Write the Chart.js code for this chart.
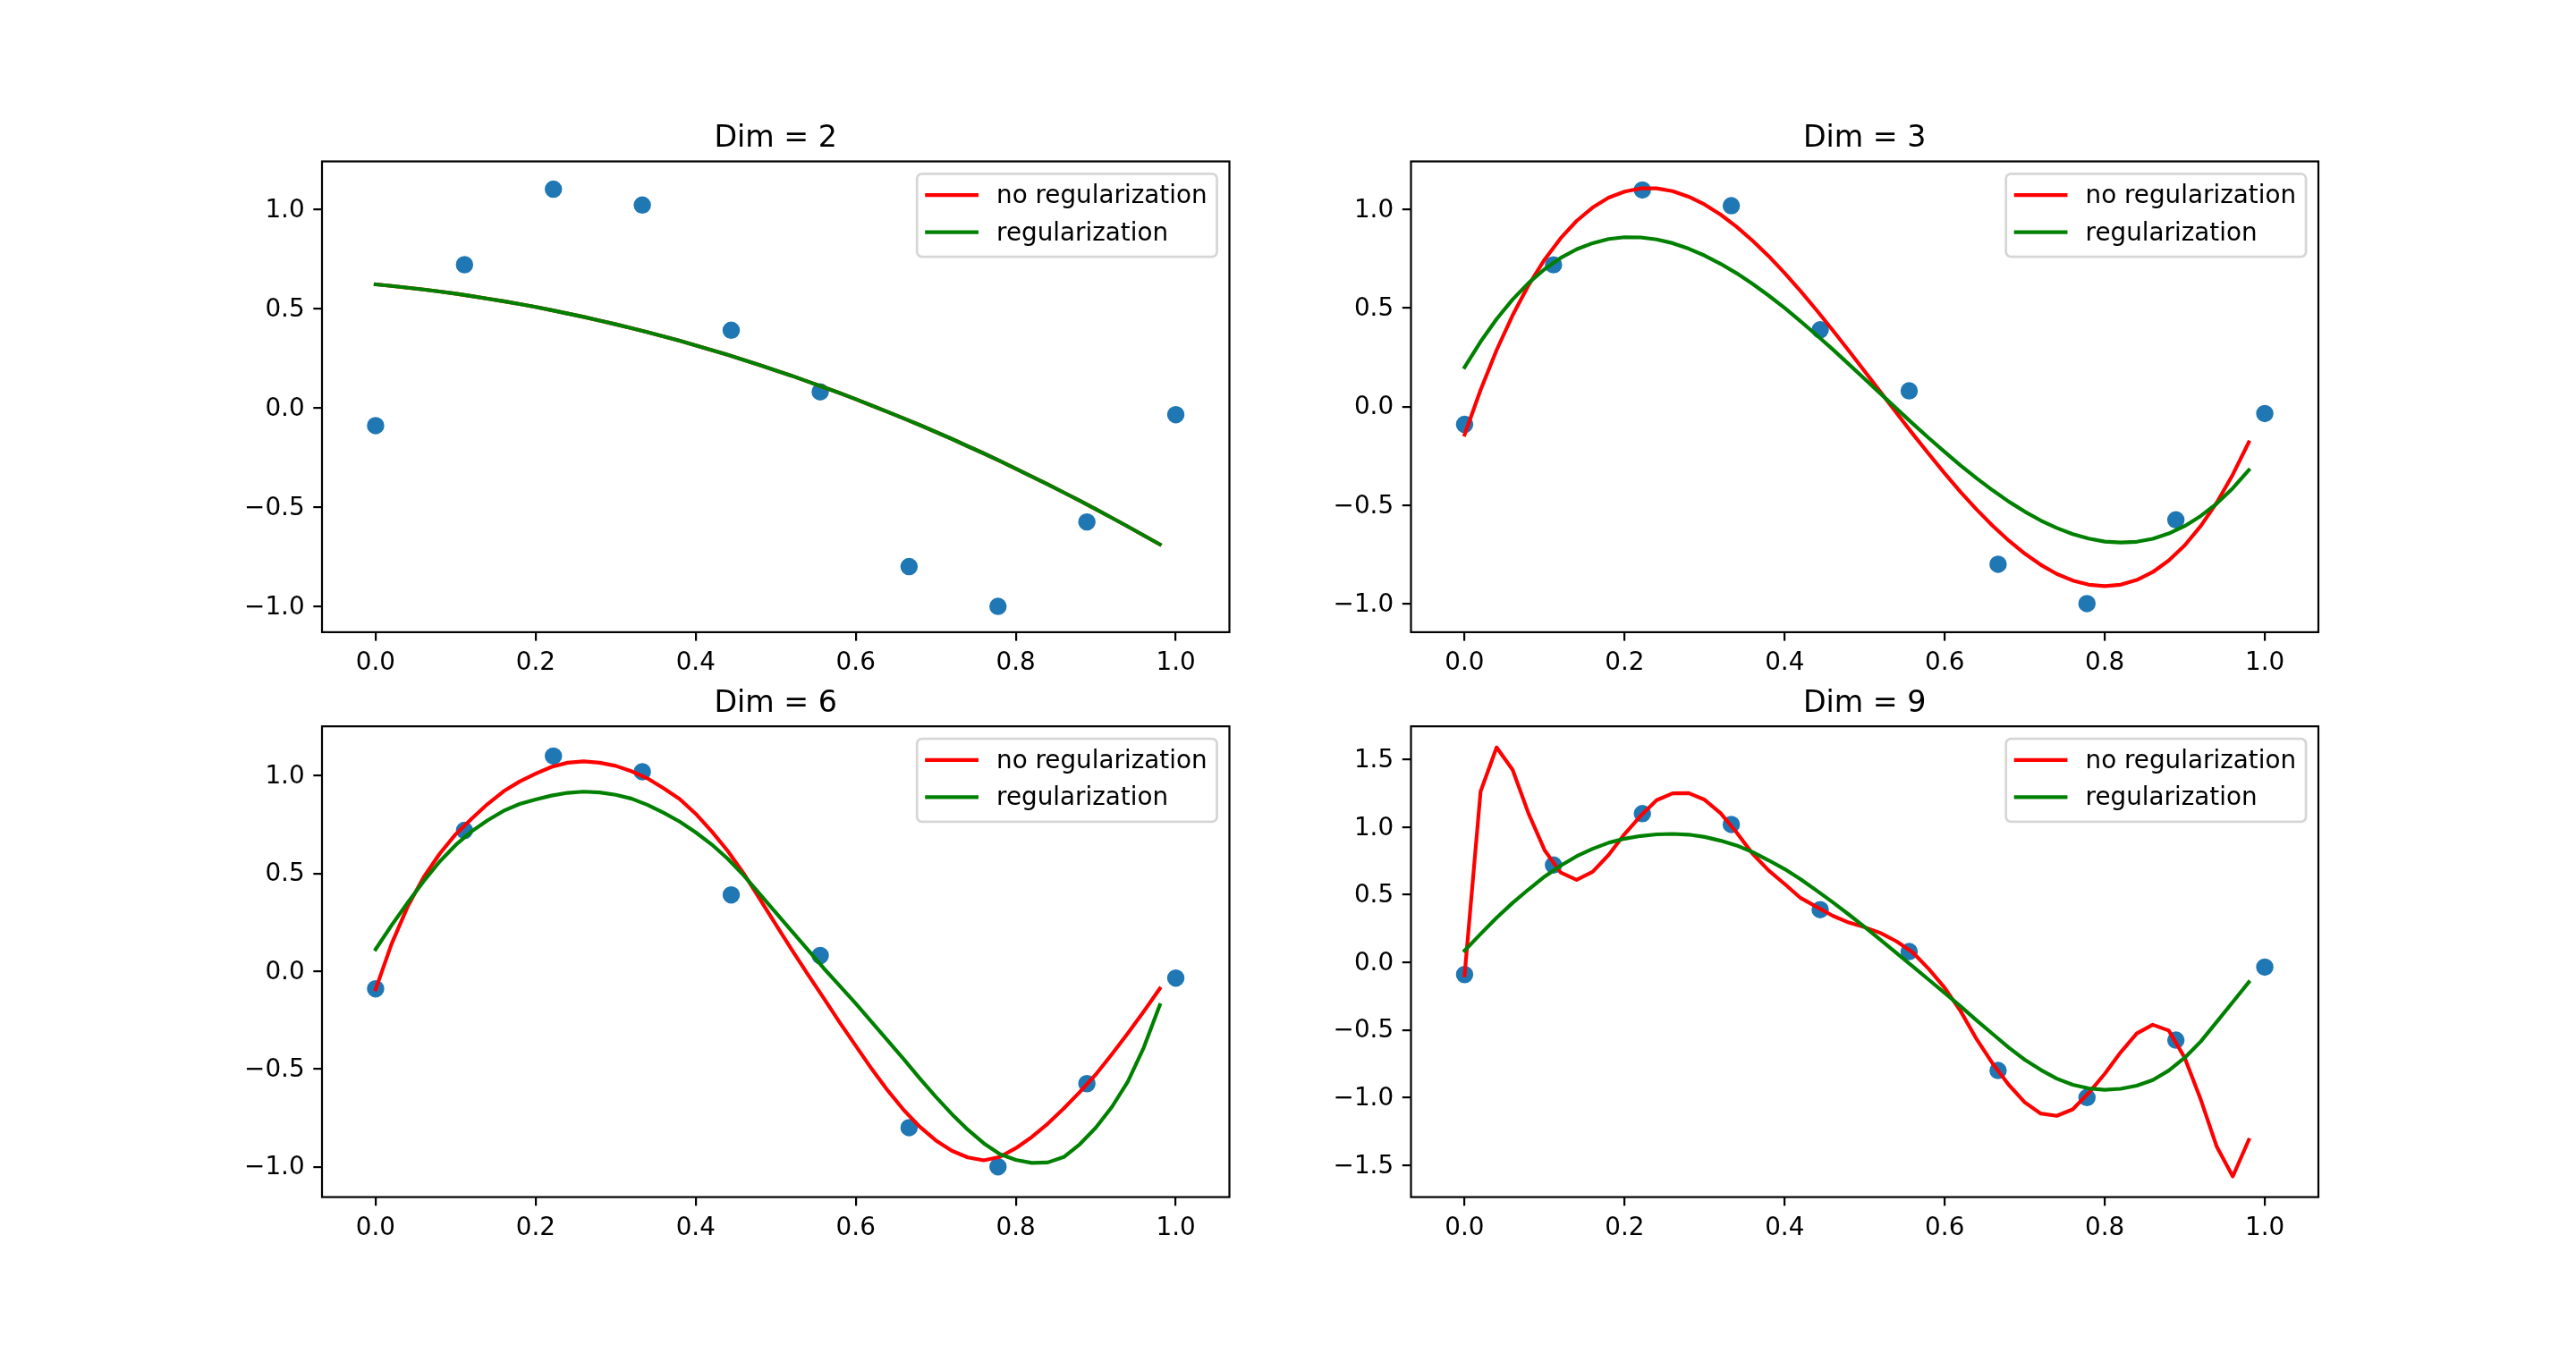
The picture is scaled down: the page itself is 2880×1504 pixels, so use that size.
<!DOCTYPE html>
<html>
<head>
<meta charset="utf-8">
<script src="https://cdn.jsdelivr.net/npm/chart.js@4.4.1/dist/chart.umd.min.js"></script>
<style>
  html, body { margin: 0; padding: 0; background: #fff; }
  #fig { position: relative; width: 2880px; height: 1504px; }
  #fig canvas { position: absolute; left: 0; top: 0; }
</style>
</head>
<body>
<div id="fig">
  <canvas id="c0" width="2880" height="1504"></canvas>
  <canvas id="c1" width="2880" height="1504"></canvas>
  <canvas id="c2" width="2880" height="1504"></canvas>
  <canvas id="c3" width="2880" height="1504"></canvas>
</div>
<script>
// ===== data =====
const titles = ['Dim = 2', 'Dim = 3', 'Dim = 6', 'Dim = 9'];
const legendLabels = ['no regularization', 'regularization'];

// sample points
const xPoints = [0, 0.1111, 0.2222, 0.3333, 0.4444, 0.5556, 0.6667, 0.7778, 0.8889, 1.0];
const yPoints = [-0.09, 0.72, 1.10, 1.02, 0.39, 0.08, -0.80, -1.00, -0.575, -0.035];

// x of the fitted curves
const xLine = [
  0, 0.02, 0.04, 0.06, 0.08, 0.10, 0.12, 0.14, 0.16, 0.18,
  0.20, 0.22, 0.24, 0.26, 0.28, 0.30, 0.32, 0.34, 0.36, 0.38,
  0.40, 0.42, 0.44, 0.46, 0.48, 0.50, 0.52, 0.54, 0.56, 0.58,
  0.60, 0.62, 0.64, 0.66, 0.68, 0.70, 0.72, 0.74, 0.76, 0.78,
  0.80, 0.82, 0.84, 0.86, 0.88, 0.90, 0.92, 0.94, 0.96, 0.98
];

const dim2Reg = [
  0.621, 0.613, 0.604, 0.595, 0.585, 0.574, 0.562, 0.549, 0.536, 0.522,
  0.507, 0.491, 0.474, 0.457, 0.439, 0.420, 0.400, 0.380, 0.359, 0.337,
  0.314, 0.290, 0.266, 0.241, 0.215, 0.188, 0.161, 0.132, 0.103, 0.074,
  0.043, 0.011, -0.021, -0.054, -0.087, -0.122, -0.157, -0.194, -0.230, -0.268,
  -0.307, -0.346, -0.386, -0.427, -0.468, -0.511, -0.554, -0.598, -0.643, -0.688
];
// hidden under the green one in the picture
const dim2NoReg = dim2Reg;

const dim3NoReg = [
  -0.142, 0.085, 0.287, 0.464, 0.617, 0.747, 0.855, 0.943, 1.011, 1.061,
  1.092, 1.108, 1.108, 1.094, 1.066, 1.026, 0.975, 0.913, 0.842, 0.764,
  0.678, 0.586, 0.489, 0.388, 0.285, 0.179, 0.073, -0.033, -0.138, -0.240,
  -0.339, -0.434, -0.523, -0.605, -0.680, -0.746, -0.803, -0.849, -0.883, -0.904,
  -0.911, -0.904, -0.880, -0.840, -0.781, -0.704, -0.606, -0.487, -0.345, -0.181
];
const dim3Reg = [
  0.200, 0.330, 0.445, 0.544, 0.628, 0.698, 0.755, 0.799, 0.830, 0.851,
  0.860, 0.859, 0.849, 0.830, 0.802, 0.767, 0.725, 0.677, 0.623, 0.564,
  0.501, 0.433, 0.363, 0.291, 0.216, 0.141, 0.065, -0.011, -0.086, -0.159,
  -0.230, -0.299, -0.364, -0.425, -0.482, -0.533, -0.578, -0.616, -0.647, -0.670,
  -0.685, -0.690, -0.686, -0.671, -0.644, -0.606, -0.555, -0.492, -0.414, -0.322
];

const dim6NoReg = [
  -0.093, 0.140, 0.330, 0.480, 0.600, 0.700, 0.780, 0.855, 0.920, 0.970,
  1.010, 1.045, 1.066, 1.073, 1.066, 1.050, 1.022, 0.985, 0.935, 0.880,
  0.805, 0.715, 0.615, 0.500, 0.370, 0.240, 0.110, -0.015, -0.138, -0.262,
  -0.381, -0.500, -0.610, -0.710, -0.795, -0.865, -0.918, -0.952, -0.967, -0.950,
  -0.905, -0.848, -0.780, -0.702, -0.618, -0.528, -0.425, -0.318, -0.206, -0.089
];
const dim6Reg = [
  0.112, 0.235, 0.350, 0.460, 0.560, 0.645, 0.715, 0.772, 0.820, 0.855,
  0.878, 0.898, 0.912, 0.918, 0.914, 0.902, 0.882, 0.850, 0.810, 0.765,
  0.710, 0.648, 0.575, 0.490, 0.395, 0.300, 0.205, 0.110, 0.015, -0.075,
  -0.165, -0.260, -0.355, -0.450, -0.548, -0.642, -0.730, -0.810, -0.880, -0.935,
  -0.965, -0.980, -0.978, -0.950, -0.885, -0.800, -0.695, -0.565, -0.390, -0.173
];

const dim9NoReg = [
  -0.095, 1.265, 1.590, 1.425, 1.100, 0.830, 0.665, 0.610, 0.670, 0.795,
  0.950, 1.084, 1.200, 1.250, 1.252, 1.203, 1.103, 0.960, 0.803, 0.680,
  0.580, 0.476, 0.410, 0.345, 0.295, 0.260, 0.217, 0.155, 0.074, -0.048,
  -0.188, -0.362, -0.569, -0.749, -0.905, -1.035, -1.118, -1.135, -1.087, -0.965,
  -0.824, -0.664, -0.526, -0.461, -0.504, -0.706, -1.015, -1.364, -1.583, -1.313
];
const dim9Reg = [
  0.087, 0.210, 0.330, 0.440, 0.540, 0.635, 0.715, 0.785, 0.840, 0.885,
  0.915, 0.935, 0.947, 0.950, 0.945, 0.928, 0.900, 0.865, 0.815, 0.755,
  0.690, 0.615, 0.531, 0.445, 0.355, 0.262, 0.165, 0.068, -0.030, -0.128,
  -0.226, -0.326, -0.430, -0.530, -0.630, -0.720, -0.795, -0.860, -0.905, -0.932,
  -0.942, -0.935, -0.912, -0.870, -0.800, -0.705, -0.585, -0.440, -0.293, -0.146
];

const noRegSeries = [dim2NoReg, dim3NoReg, dim6NoReg, dim9NoReg];
const regSeries = [dim2Reg, dim3Reg, dim6Reg, dim9Reg];

// ticks and axis ranges
const xTicks = [0, 0.2, 0.4, 0.6, 0.8, 1.0];
const yTicksSmall = [-1.0, -0.5, 0, 0.5, 1.0];
const yTicksBig = [-1.5, -1.0, -0.5, 0, 0.5, 1.0, 1.5];
const yTickSets = [yTicksSmall, yTicksSmall, yTicksSmall, yTicksBig];
const xMin = -0.067, xMax = 1.067;
const yMins = [-1.13, -1.145, -1.155, -1.736];
const yMaxs = [1.24, 1.245, 1.252, 1.746];

// ===== layout (figure pixels) =====
const FIG_W = 2880, FIG_H = 1504;
const AX_W = 1014.5, AX_H = 526.4;
const AX_LEFT = [360, 1577.5, 360, 1577.5];
const AX_TOP = [180.5, 180.5, 812.2, 812.2];
const Y_AXIS_W = 130, X_AXIS_H = 70;

const FONT = '"DejaVu Sans", "Liberation Sans", sans-serif';
const TICK_SIZE = 27.8;
const TITLE_SIZE = 33.3;

function fmtTick(v) {
  const s = Math.abs(v).toFixed(1);
  return v < -1e-9 ? '\u2212' + s : s;
}

// frame, title and in-axes legend, matplotlib style
const axesDecor = {
  id: 'axesDecor',
  afterDatasetsDraw(chart, args, opts) {
    const ctx = chart.ctx;
    const a = chart.chartArea;
    ctx.save();

    // spines
    ctx.strokeStyle = '#000';
    ctx.lineWidth = 2.2;
    ctx.strokeRect(a.left, a.top, a.right - a.left, a.bottom - a.top);

    // title
    ctx.fillStyle = '#000';
    ctx.font = TITLE_SIZE + 'px ' + FONT;
    ctx.textAlign = 'center';
    ctx.textBaseline = 'alphabetic';
    ctx.fillText(opts.title, (a.left + a.right) / 2, a.top - 16.7);

    // legend
    ctx.font = TICK_SIZE + 'px ' + FONT;
    const textW = Math.max(...legendLabels.map(t => ctx.measureText(t).width));
    const pad = 11.1, handle = 55.6, gap = 22.2;
    const w = pad + handle + gap + textW + pad;
    const h = 92.7;
    const right = a.right - 13.9, top = a.top + 13.9;
    const left = right - w;
    ctx.beginPath();
    ctx.roundRect(left, top, w, h, 5.6);
    ctx.fillStyle = 'rgba(255,255,255,0.8)';
    ctx.fill();
    ctx.strokeStyle = 'rgba(204,204,204,0.8)';
    ctx.lineWidth = 2.78;
    ctx.stroke();

    const colors = ['red', 'green'];
    legendLabels.forEach((label, i) => {
      const y = top + 23.7 + i * 41.6;
      ctx.beginPath();
      ctx.strokeStyle = colors[i];
      ctx.lineWidth = 4.17;
      ctx.lineCap = 'square';
      ctx.moveTo(left + pad, y);
      ctx.lineTo(left + pad + handle, y);
      ctx.stroke();
      ctx.fillStyle = '#000';
      ctx.textAlign = 'left';
      ctx.textBaseline = 'alphabetic';
      ctx.fillText(label, left + pad + handle + gap, y + 9);
    });
    ctx.restore();
  }
};

function makeChart(i) {
  const pts = xPoints.map((x, k) => ({ x: x, y: yPoints[k] }));
  const red = xLine.map((x, k) => ({ x: x, y: noRegSeries[i][k] }));
  const green = xLine.map((x, k) => ({ x: x, y: regSeries[i][k] }));
  const yTicks = yTickSets[i];

  const lineStyle = {
    showLine: true, pointRadius: 0, borderWidth: 4.17, tension: 0,
    borderJoinStyle: 'round', borderCapStyle: 'square', fill: false
  };

  const tickGrid = {
    display: true, drawOnChartArea: false, drawTicks: true,
    tickLength: 9.7, tickWidth: 2.2, lineWidth: 2.2, tickColor: '#000', color: '#000'
  };

  new Chart(document.getElementById('c' + i), {
    type: 'scatter',
    data: {
      datasets: [
        Object.assign({ label: legendLabels[1], data: green, borderColor: 'green', order: 1 }, lineStyle),
        Object.assign({ label: legendLabels[0], data: red, borderColor: 'red', order: 2 }, lineStyle),
        {
          label: 'data', data: pts, order: 3, showLine: false,
          pointRadius: 8.35, pointBorderWidth: 2.78,
          pointBackgroundColor: '#1f77b4', pointBorderColor: '#1f77b4'
        }
      ]
    },
    options: {
      responsive: false,
      animation: false,
      events: [],
      layout: {
        padding: {
          left: AX_LEFT[i] - Y_AXIS_W,
          top: AX_TOP[i],
          right: FIG_W - AX_LEFT[i] - AX_W,
          bottom: FIG_H - AX_TOP[i] - AX_H - X_AXIS_H
        }
      },
      scales: {
        x: {
          type: 'linear', min: xMin, max: xMax,
          afterFit(s) { s.height = X_AXIS_H; },
          afterBuildTicks(s) { s.ticks = xTicks.map(v => ({ value: v })); },
          grid: tickGrid,
          border: { display: false },
          ticks: {
            color: '#000', padding: 8.5, maxRotation: 0, autoSkip: false,
            font: { family: FONT, size: TICK_SIZE },
            callback: v => fmtTick(v)
          }
        },
        y: {
          type: 'linear', min: yMins[i], max: yMaxs[i],
          afterFit(s) { s.width = Y_AXIS_W; },
          afterBuildTicks(s) { s.ticks = yTicks.map(v => ({ value: v })); },
          grid: tickGrid,
          border: { display: false },
          ticks: {
            color: '#000', padding: 9.7, autoSkip: false, labelOffset: 1.5,
            font: { family: FONT, size: TICK_SIZE },
            callback: v => fmtTick(v)
          }
        }
      },
      plugins: {
        legend: { display: false },
        tooltip: { enabled: false },
        axesDecor: { title: titles[i] }
      }
    },
    plugins: [axesDecor]
  });
}

for (let i = 0; i < 4; i++) makeChart(i);
</script>
</body>
</html>
